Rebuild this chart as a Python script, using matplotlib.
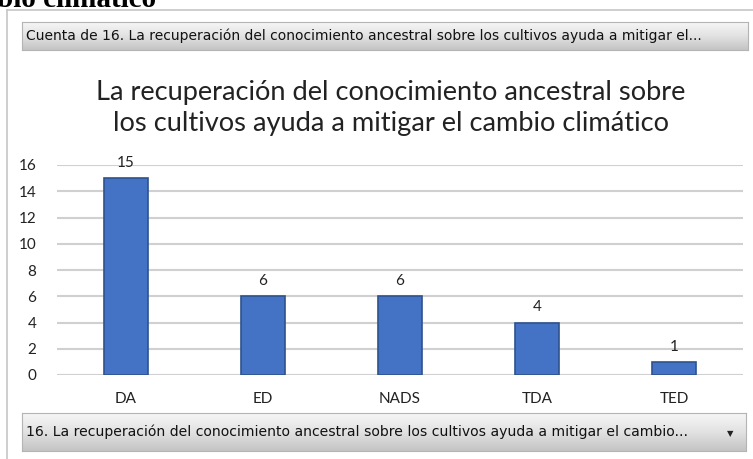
import numpy as np
import matplotlib
matplotlib.use("Agg")
import matplotlib.pyplot as plt

# respuestas de la pregunta 16
categorias = ["DA", "ED", "NADS", "TDA", "TED"]
cuentas = [15, 6, 6, 4, 1]
marcas_y = [0, 2, 4, 6, 8, 10, 12, 14, 16]

titulo = "La recuperación del conocimiento ancestral sobre\nlos cultivos ayuda a mitigar el cambio climático"
boton_valores = "Cuenta de 16. La recuperación del conocimiento ancestral sobre los cultivos ayuda a mitigar el..."
boton_eje = "16. La recuperación del conocimiento ancestral sobre los cultivos ayuda a mitigar el cambio..."
encabezado = "bio climático"

W, H = 753, 459
fig = plt.figure(figsize=(W / 100, H / 100), dpi=100)
fig.patch.set_facecolor("white")


def fx(px):
    return px / W


def fy(py):
    # py medido desde arriba
    return 1 - py / H


# texto cortado del documento, arriba a la izquierda
fig.text(fx(-3), fy(7), encabezado, fontsize=21, fontweight="bold",
         family="Liberation Serif", va="baseline", ha="left")

# marco del gráfico
fig.add_artist(plt.Line2D([fx(7), fx(753)], [fy(10), fy(10)], color="#c6c6c6", lw=1.2))
fig.add_artist(plt.Line2D([fx(7), fx(7)], [fy(10), fy(459)], color="#c6c6c6", lw=1.2))


def boton(x0, y0, x1, y1, texto, tam, flecha=False):
    ax_b = fig.add_axes([fx(x0), fy(y1), fx(x1 - x0), (y1 - y0) / H])
    grad = np.linspace(0, 1, 64).reshape(-1, 1)
    ax_b.imshow(grad, aspect="auto", cmap=matplotlib.colors.LinearSegmentedColormap.from_list(
        "g", ["#f6f6f6", "#e2e2e2", "#c4c4c4"]), extent=[0, 1, 0, 1], origin="upper")
    ax_b.set_xlim(0, 1)
    ax_b.set_ylim(0, 1)
    ax_b.set_xticks([])
    ax_b.set_yticks([])
    for s in ax_b.spines.values():
        s.set_color("#b4b4b4")
        s.set_linewidth(0.8)
    ax_b.text(4 / (x1 - x0), 0.5, texto, family="DejaVu Sans", fontsize=tam,
              va="center", ha="left", color="#111111")
    if flecha:
        ax_b.text(1 - 16 / (x1 - x0), 0.45, "▼", fontsize=6, va="center",
                  ha="center", color="#222222", family="DejaVu Sans")


boton(22, 22, 748, 50, boton_valores, 10.0)
boton(22, 413, 746, 451, boton_eje, 10.1, flecha=True)

# título
fig.text(fx(391), fy(108), titulo, ha="center", va="center", fontsize=19.6,
         family="Lato", color="#222222", linespacing=1.33)

# área del gráfico
ax = fig.add_axes([fx(57), fy(375), fx(743 - 57), (375 - 165) / H])
x = np.arange(len(categorias))
barras = ax.bar(x, cuentas, width=0.32, color="#4472C4", edgecolor="#2F528F",
                linewidth=1.2, zorder=3)
ax.set_xlim(-0.5, len(categorias) - 0.5)
ax.set_ylim(0, 16)
ax.set_yticks(marcas_y)
ax.set_xticks(x)
ax.set_xticklabels(categorias)
ax.grid(axis="y", color="#d0d0d0", linewidth=1.5, zorder=0)
for s in ax.spines.values():
    s.set_visible(False)
ax.tick_params(axis="both", length=0, labelsize=11, labelcolor="#222222")
ax.tick_params(axis="y", pad=15)
ax.tick_params(axis="x", pad=12)
for lab in ax.get_xticklabels() + ax.get_yticklabels():
    lab.set_family("Lato")

for b, v in zip(barras, cuentas):
    ax.annotate(str(v), (b.get_x() + b.get_width() / 2, v), xytext=(0, 6),
                textcoords="offset points", ha="center", va="bottom",
                fontsize=11, family="Lato", color="#222222")

fig.savefig("out.png", dpi=100)
